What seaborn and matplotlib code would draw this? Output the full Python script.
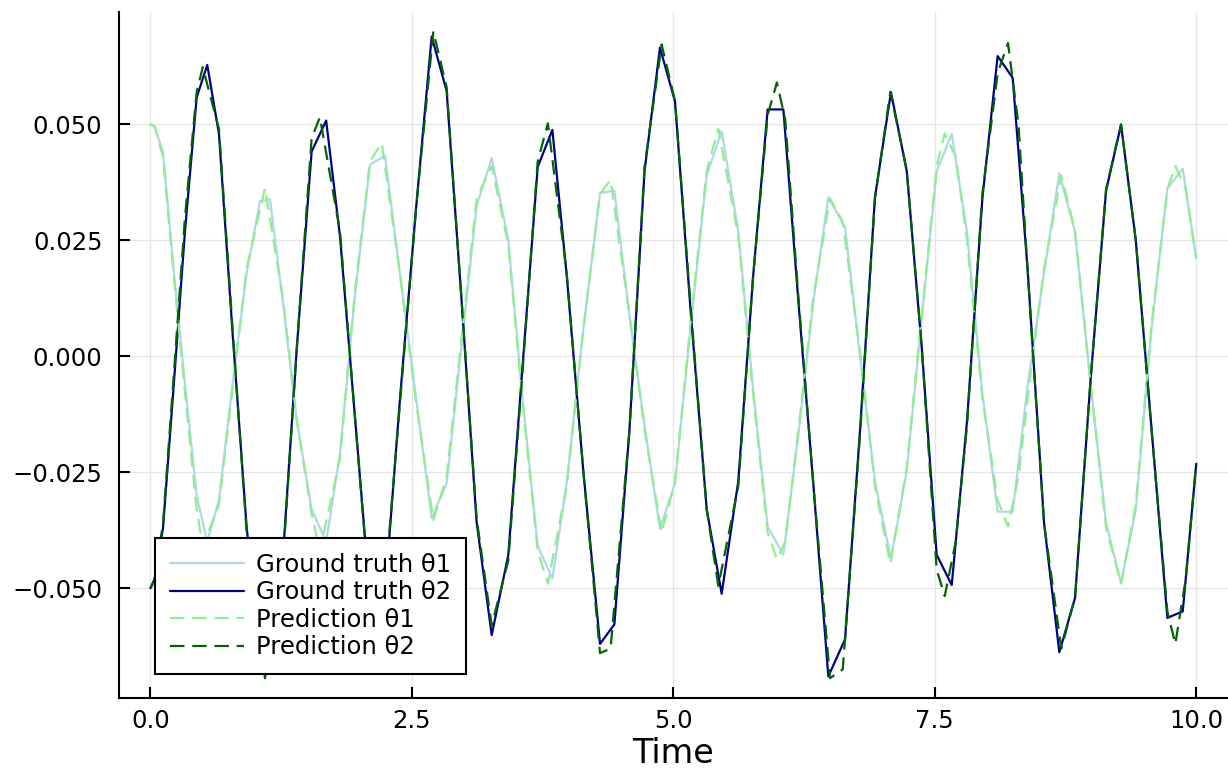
import matplotlib
matplotlib.use('Agg')
import matplotlib.pyplot as plt
import pandas as pd
import seaborn as sns

# ground truth (solver time steps)
t_true = [0.0, 0.04, 0.12, 0.22, 0.33, 0.442, 0.543, 0.655, 0.785, 0.92,
          1.047, 1.143, 1.27, 1.40, 1.541, 1.68, 1.812, 1.955, 2.099, 2.243,
          2.39, 2.54, 2.689, 2.832, 2.975, 3.119, 3.263, 3.422, 3.562, 3.703,
          3.843, 3.980, 4.14, 4.299, 4.436, 4.58, 4.725, 4.872, 5.016, 5.168,
          5.319, 5.462, 5.621, 5.762, 5.902, 6.052, 6.195, 6.34, 6.482, 6.642,
          6.785, 6.928, 7.081, 7.232, 7.375, 7.518, 7.662, 7.808, 7.955, 8.101,
          8.245, 8.39, 8.545, 8.691, 8.841, 8.99, 9.138, 9.281, 9.422, 9.573,
          9.724, 9.871, 10.0]
theta1_true = [0.050, 0.0495, 0.044, 0.019, -0.006, -0.030, -0.040, -0.031, -0.006, 0.018,
               0.0334, 0.0338, 0.011, -0.014, -0.033, -0.040, -0.021, 0.013, 0.0413, 0.0432,
               0.017, -0.009, -0.0349, -0.0274, 0.0025, 0.0324, 0.0427, 0.025, -0.010, -0.0409,
               -0.0479, -0.0274, 0.006, 0.0352, 0.0357, 0.0088, -0.015, -0.0372, -0.0274, 0.007,
               0.039, 0.0485, 0.027, -0.007, -0.0367, -0.0428, -0.017, 0.012, 0.0343, 0.0278,
               0.000, -0.027, -0.0437, -0.0246, 0.008, 0.0399, 0.0479, 0.0268, -0.008, -0.0335,
               -0.0335, -0.006, 0.018, 0.0394, 0.0268, -0.006, -0.036, -0.0489, -0.033, 0.006,
               0.0362, 0.0404, 0.0212]
theta2_true = [-0.050, -0.048, -0.037, -0.007, 0.027, 0.0558, 0.0628, 0.0479, 0.005, -0.037,
               -0.062, -0.066, -0.042, 0.002, 0.0441, 0.0508, 0.0259, -0.013, -0.052, -0.051,
               -0.008, 0.032, 0.0689, 0.0572, 0.012, -0.0358, -0.0601, -0.0428, -0.001, 0.0408,
               0.0488, 0.0175, -0.025, -0.062, -0.0578, -0.016, 0.040, 0.0665, 0.0549, 0.009,
               -0.033, -0.0512, -0.0269, 0.017, 0.0532, 0.0532, 0.012, -0.028, -0.069, -0.061,
               -0.016, 0.0343, 0.0569, 0.0399, 0.002, -0.0428, -0.0493, -0.014, 0.034, 0.0647,
               0.060, 0.018, -0.036, -0.0638, -0.0521, -0.005, 0.0357, 0.0499, 0.025, -0.0157,
               -0.0564, -0.055, -0.0232]

# model prediction
t_pred = [0.0, 0.04, 0.12, 0.22, 0.33, 0.442, 0.50, 0.655, 0.785, 0.92,
          1.095, 1.27, 1.40, 1.541, 1.62, 1.812, 1.955, 2.099, 2.211, 2.39,
          2.54, 2.705, 2.832, 2.975, 3.119, 3.263, 3.422, 3.562, 3.703, 3.80,
          3.98, 4.14, 4.299, 4.40, 4.58, 4.725, 4.888, 5.016, 5.168, 5.319,
          5.43, 5.621, 5.762, 5.902, 5.99, 6.07, 6.195, 6.34, 6.498, 6.62,
          6.785, 6.928, 7.075, 7.232, 7.375, 7.518, 7.595, 7.70, 7.808, 7.955,
          8.101, 8.20, 8.30, 8.42, 8.545, 8.71, 8.841, 8.99, 9.138, 9.281,
          9.422, 9.573, 9.724, 9.80, 9.90, 10.0]
theta1_pred = [0.050, 0.0495, 0.043, 0.018, -0.008, -0.033, -0.041, -0.032, -0.007, 0.019,
               0.0362, 0.012, -0.014, -0.034, -0.042, -0.022, 0.014, 0.042, 0.046, 0.017,
               -0.010, -0.0353, -0.026, 0.004, 0.034, 0.041, 0.024, -0.011, -0.042, -0.049,
               -0.028, 0.006, 0.035, 0.038, 0.009, -0.016, -0.038, -0.027, 0.008, 0.040,
               0.049, 0.026, -0.008, -0.038, -0.0437, -0.040, -0.016, 0.013, 0.034, 0.029,
               0.001, -0.028, -0.0447, -0.024, 0.009, 0.041, 0.048, 0.043, 0.025, -0.009,
               -0.031, -0.0367, -0.026, -0.003, 0.019, 0.039, 0.027, -0.006, -0.037, -0.049,
               -0.032, 0.007, 0.036, 0.041, 0.036, 0.021]
theta2_pred = [-0.050, -0.048, -0.036, -0.005, 0.030, 0.057, 0.0623, 0.049, 0.006, -0.038,
               -0.0694, -0.043, 0.002, 0.047, 0.0515, 0.027, -0.013, -0.053, -0.058, -0.009,
               0.032, 0.070, 0.058, 0.012, -0.035, -0.058, -0.044, -0.002, 0.042, 0.0502,
               0.018, -0.025, -0.064, -0.063, -0.016, 0.041, 0.0672, 0.055, 0.010, -0.033,
               -0.0495, -0.028, 0.017, 0.052, 0.059, 0.051, 0.013, -0.028, -0.0694, -0.0675,
               -0.017, 0.034, 0.057, 0.040, 0.002, -0.046, -0.0517, -0.040, -0.015, 0.035,
               0.061, 0.0675, 0.050, 0.007, -0.036, -0.063, -0.052, -0.005, 0.036, 0.050,
               0.025, -0.016, -0.055, -0.062, -0.048, -0.023]

x_ticks = [0.0, 2.5, 5.0, 7.5, 10.0]
x_ticklabels = ['0.0', '2.5', '5.0', '7.5', '10.0']
y_ticks = [-0.05, -0.025, 0.0, 0.025, 0.05]
y_ticklabels = ['\u22120.050', '\u22120.025', '0.000', '0.025', '0.050']

df_true = pd.DataFrame({'t': t_true, 'theta1': theta1_true, 'theta2': theta2_true})
df_pred = pd.DataFrame({'t': t_pred, 'theta1': theta1_pred, 'theta2': theta2_pred})

sns.set_style('white')
plt.rcParams['font.family'] = ['DejaVu Sans']
plt.rcParams['text.color'] = 'black'
plt.rcParams['axes.labelcolor'] = 'black'

fig = plt.figure(figsize=(12.28, 7.78), dpi=100)
ax = fig.add_axes([119.1 / 1228, 1 - 697.7 / 778, 1108.5 / 1228, 685.7 / 778])

lw = 1.6
dash = (0, (6.5, 3.5))
sns.lineplot(data=df_true, x='t', y='theta1', ax=ax, sort=False, estimator=None,
             color='#add8e6', linewidth=lw, label='Ground truth \u03b81')
sns.lineplot(data=df_true, x='t', y='theta2', ax=ax, sort=False, estimator=None,
             color='#00008b', linewidth=lw, label='Ground truth \u03b82')
sns.lineplot(data=df_pred, x='t', y='theta1', ax=ax, sort=False, estimator=None,
             color='#90ee90', linewidth=lw, linestyle=dash, label='Prediction \u03b81')
sns.lineplot(data=df_pred, x='t', y='theta2', ax=ax, sort=False, estimator=None,
             color='#006400', linewidth=lw, linestyle=dash, label='Prediction \u03b82')

ax.set_xlim(-0.3, 10.3)
ax.set_ylim(-0.0736, 0.0742)
ax.set_xticks(x_ticks)
ax.set_xticklabels(x_ticklabels)
ax.set_yticks(y_ticks)
ax.set_yticklabels(y_ticklabels)
ax.grid(True, color='#e6e6e6', linewidth=1.0)
ax.set_axisbelow(True)

for side in ['top', 'right']:
    ax.spines[side].set_visible(False)
for side in ['left', 'bottom']:
    ax.spines[side].set_color('black')
    ax.spines[side].set_linewidth(1.5)

# seaborn white style turns the tick marks off
ax.tick_params(axis='both', bottom=True, left=True, direction='in', length=8,
               width=1.5, colors='black', labelsize=17.5)
ax.tick_params(axis='y', pad=12)
ax.tick_params(axis='x', pad=8)
ax.set_xlabel('Time', fontsize=24, labelpad=3, color='black')
ax.set_ylabel('')

leg = ax.legend(loc='lower left', bbox_to_anchor=(0.0325, 0.0345), borderaxespad=0,
                fontsize=17.5, frameon=True, fancybox=False, framealpha=1,
                edgecolor='black', handlelength=3.05, handletextpad=0.5,
                labelspacing=0.15, borderpad=0.6)
leg.get_frame().set_linewidth(1.5)

fig.savefig('out.png', dpi=100)
